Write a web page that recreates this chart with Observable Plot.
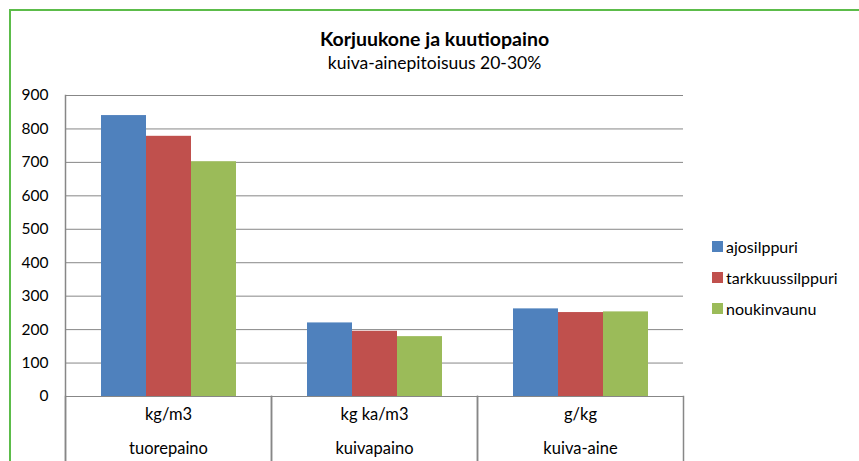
<!DOCTYPE html>
<html>
<head>
<meta charset="utf-8">
<script src="https://cdn.jsdelivr.net/npm/d3@7"></script>
<script src="https://cdn.jsdelivr.net/npm/@observablehq/plot@0.6"></script>
<style>
  html, body { margin: 0; padding: 0; background: #fff; }
  #wrap { position: relative; width: 859px; height: 461px; overflow: hidden; background: #fff; font-family: Lato, "Open Sans", sans-serif; color: #000; }
  #border { position: absolute; left: 9px; top: 9px; width: 1000px; height: 1000px; border-left: 2px solid #5cbc4a; border-top: 2px solid #5cbc4a; }
  #title { position: absolute; left: 0; width: 869px; top: 27px; text-align: center; font-weight: bold; font-size: 19.5px; }
  #subtitle { position: absolute; left: 0; width: 869px; top: 52px; text-align: center; font-size: 17.5px; }
  #legend { position: absolute; left: 712px; top: 231px; font-size: 16px; }
  .item { display: flex; align-items: center; height: 31px; }
  .sw { width: 11px; height: 11px; margin-right: 3px; }
  #chart { position: absolute; left: 0; top: 0; }
</style>
</head>
<body>
<div id="wrap">
  <div id="border"></div>
  <div id="chart"></div>
  <div id="title"></div>
  <div id="subtitle"></div>
  <div id="legend"></div>
</div>
<script>
const titleText = "Korjuukone ja kuutiopaino";
const subtitleText = "kuiva-ainepitoisuus 20-30%";
const categories = ["tuorepaino", "kuivapaino", "kuiva-aine"];
const units = ["kg/m3", "kg ka/m3", "g/kg"];
const series = ["ajosilppuri", "tarkkuussilppuri", "noukinvaunu"];
const ajosilppuri = [840, 220, 262];
const tarkkuussilppuri = [778, 195, 251];
const noukinvaunu = [702, 179, 253];
const yTicks = [0, 100, 200, 300, 400, 500, 600, 700, 800, 900];
const colors = ["#4f81bd", "#c0504d", "#9bbb59"];

const values = [ajosilppuri, tarkkuussilppuri, noukinvaunu];
const data = [];
categories.forEach((c, i) => series.forEach((s, j) => data.push({category: c, series: s, value: values[j][i]})));
const labels = categories.map((c, i) => ({category: c, unit: units[i]}));

document.getElementById("title").textContent = titleText;
document.getElementById("subtitle").textContent = subtitleText;
const legend = document.getElementById("legend");
series.forEach((s, i) => {
  const it = document.createElement("div");
  it.className = "item";
  const sw = document.createElement("span");
  sw.className = "sw";
  sw.style.background = colors[i];
  const tx = document.createElement("span");
  tx.textContent = s;
  it.appendChild(sw); it.appendChild(tx);
  legend.appendChild(it);
});

const grid = "#878787";
const chart = Plot.plot({
  width: 859,
  height: 461,
  marginLeft: 64,
  marginRight: 175,
  marginTop: 95,
  marginBottom: 65,
  style: {fontFamily: "Lato, 'Open Sans', sans-serif", fontSize: "14px", color: "#000", background: "transparent"},
  fx: {domain: categories, padding: 0, axis: null},
  x: {domain: series, paddingInner: 0, paddingOuter: 0.746, axis: null},
  y: {domain: [0, 900], axis: null},
  color: {domain: series, range: colors},
  marks: [
    Plot.ruleY(yTicks, {stroke: grid, strokeWidth: 1}),
    Plot.barY(data, {fx: "category", x: "series", y: "value", fill: "series"}),
    Plot.frame({anchor: "left", fx: categories[0], stroke: grid, strokeWidth: 1.5, insetBottom: -70}),
    Plot.frame({anchor: "left", stroke: grid, strokeWidth: 1.5, insetTop: 301, insetBottom: -70}),
    Plot.frame({anchor: "right", stroke: grid, strokeWidth: 1.5, insetTop: 301, insetBottom: -70}),
    Plot.axisY(yTicks, {tickSize: 0, tickPadding: 17, fontSize: 15.5, fill: "#000", label: null}),
    Plot.text(labels, {fx: "category", text: "unit", frameAnchor: "bottom", dy: 23, fontSize: 16.5, fill: "#000"}),
    Plot.text(labels, {fx: "category", text: "category", frameAnchor: "bottom", dy: 57, fontSize: 16.5, fill: "#000"})
  ]
});
document.getElementById("chart").appendChild(chart);
</script>
</body>
</html>
